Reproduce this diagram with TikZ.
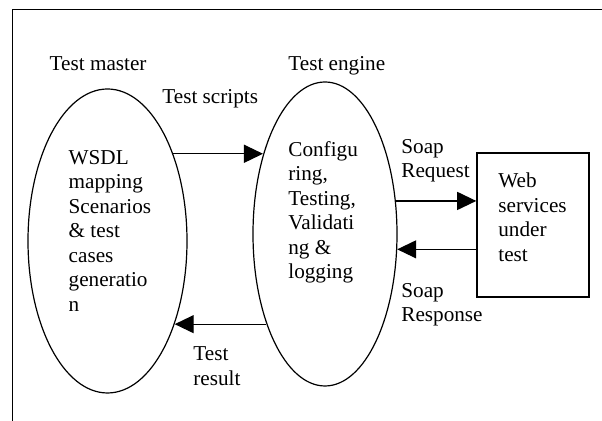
\documentclass[tikz,border=0pt]{standalone}
\usepackage{fontspec}
\setmainfont{Liberation Serif}
\usetikzlibrary{arrows.meta,shapes.geometric}
\begin{document}
\begin{tikzpicture}[x=.5pt,y=-.5pt,
	txt/.style={inner sep=0,align=left,font=\fontsize{10.6pt}{12.25pt}\selectfont},
	oval/.style={draw,ellipse,line width=.6pt,inner sep=0},
	arr/.style={line width=.6pt,-{Triangle[length=9.5pt,width=9pt]}}]
	\useasboundingbox(0,0)rectangle(602,421);
	\draw[line width=.75pt](602,9.5)--(12.7,9.5)--(12.7,421);
	\node[oval,minimum width=79.5pt,minimum height=152pt](tmaster)at(107.5,241){};
	\node[oval,minimum width=72pt,minimum height=152pt](tengine)at(325,234){};
	\node[draw,line width=.75pt,minimum width=56pt,minimum height=72pt,inner sep=0](wsut)at(533,225){};
	\node[txt,anchor=base west](tmname)at(49.3,71){Test master};
	\node[txt,anchor=base west](tename)at(288,71){Test engine};
	\node[txt,anchor=base west](tscripts)at(162,104){Test scripts};
	\node[txt,anchor=north west](tmtext)at(68.3,150){WSDL\\mapping\\Scenarios\\\& test\\cases\\generatio\\n};
	\node[txt,anchor=north west](tetext)at(288,141){Configu\\ring,\\Testing,\\Validati\\ng \&\\logging};
	\node[txt,anchor=north west](wstext)at(498,172.5){Web\\services\\under\\test};
	\node[txt,anchor=north west](sreq)at(401,139){Soap\\Request};
	\node[txt,anchor=north west](sresp)at(401,283){Soap\\Response};
	\node[txt,anchor=north west](tresult)at(193,346.5){Test\\result};
	\draw[arr](tmaster.53)--(tmaster.53-|tengine.128);
	\draw[arr](tengine.25)--(tengine.25-|wsut.west);
	\draw[arr](wsut.west|-tengine.-12)--(tengine.-12);
	\draw[arr](tengine.-123)--(tengine.-123-|tmaster.-51);
\end{tikzpicture}
\end{document}
